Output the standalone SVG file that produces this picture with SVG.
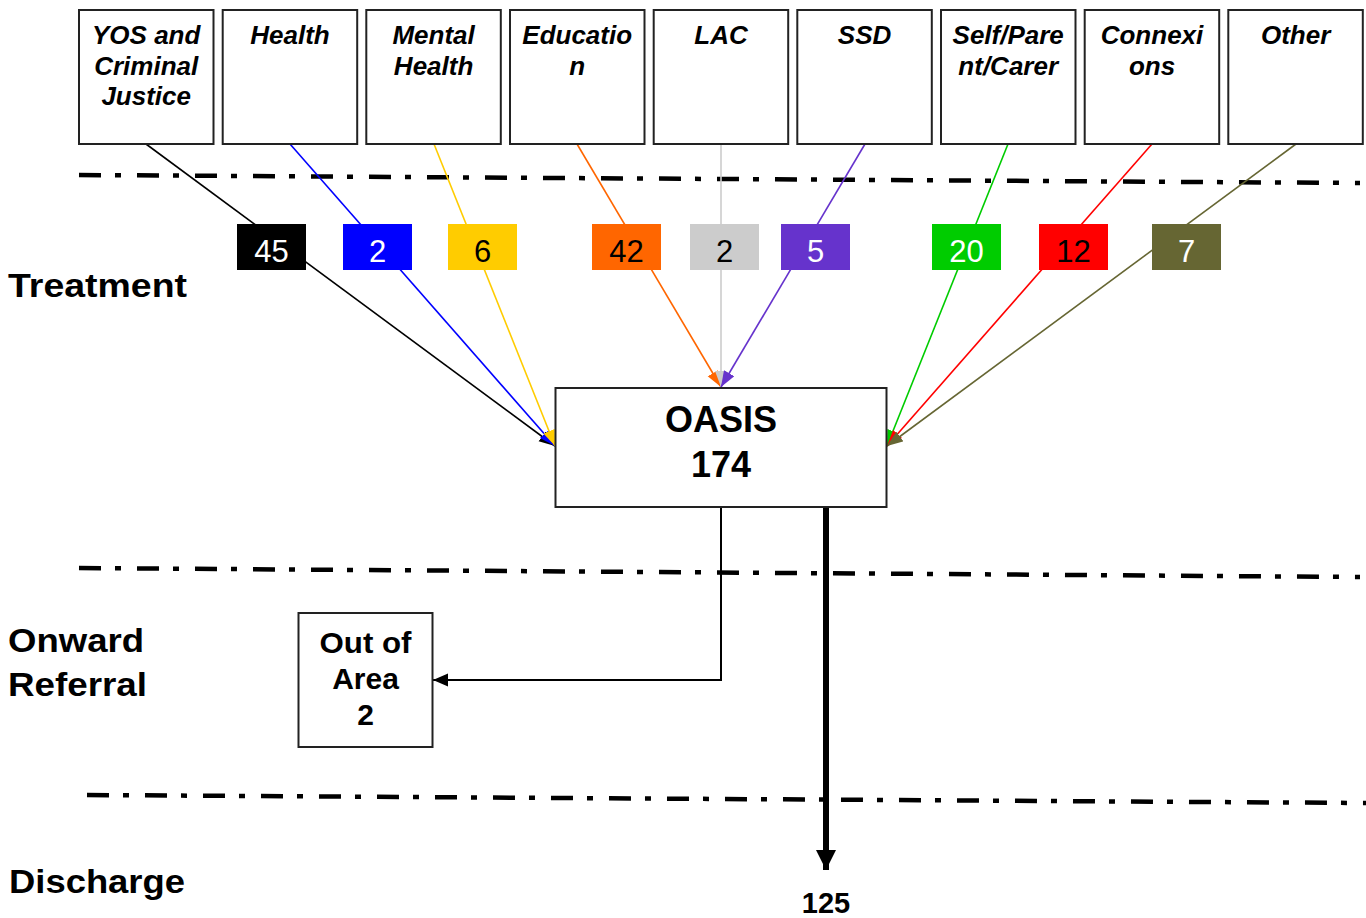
<svg xmlns="http://www.w3.org/2000/svg" width="1366" height="918" viewBox="0 0 1366 918">
<style>
.src rect{fill:#fff;stroke:#222;stroke-width:2}
.src text{font-family:"Liberation Sans",Arial,sans-serif;font-weight:bold;font-style:italic;font-size:26px;text-anchor:middle;fill:#000}
.cnt text{font-family:"Liberation Sans",Arial,sans-serif;font-size:31px;text-anchor:middle}
.lane{font-family:"Liberation Sans",Arial,sans-serif;font-weight:bold;font-size:34px;fill:#000}
.bold{font-family:"Liberation Sans",Arial,sans-serif;font-weight:bold;text-anchor:middle;fill:#000}
.sep{stroke:#000;stroke-width:4.5;stroke-dasharray:22 14 6 16;fill:none}
.ln{fill:none;stroke-width:1.6}
</style>
<defs>
<marker id="mk-black" markerUnits="userSpaceOnUse" markerWidth="18" markerHeight="13" refX="16" refY="6" orient="auto"><path d="M0,0 L16,6 L0,12 z" fill="#000"/></marker>
<marker id="mk-blue" markerUnits="userSpaceOnUse" markerWidth="18" markerHeight="13" refX="16" refY="6" orient="auto"><path d="M0,0 L16,6 L0,12 z" fill="#0000ff"/></marker>
<marker id="mk-yellow" markerUnits="userSpaceOnUse" markerWidth="18" markerHeight="13" refX="16" refY="6" orient="auto"><path d="M0,0 L16,6 L0,12 z" fill="#ffcc00"/></marker>
<marker id="mk-orange" markerUnits="userSpaceOnUse" markerWidth="18" markerHeight="13" refX="16" refY="6" orient="auto"><path d="M0,0 L16,6 L0,12 z" fill="#ff6600"/></marker>
<marker id="mk-gray" markerUnits="userSpaceOnUse" markerWidth="18" markerHeight="13" refX="16" refY="6" orient="auto"><path d="M0,0 L16,6 L0,12 z" fill="#cccccc"/></marker>
<marker id="mk-purple" markerUnits="userSpaceOnUse" markerWidth="18" markerHeight="13" refX="16" refY="6" orient="auto"><path d="M0,0 L16,6 L0,12 z" fill="#6633cc"/></marker>
<marker id="mk-green" markerUnits="userSpaceOnUse" markerWidth="18" markerHeight="13" refX="16" refY="6" orient="auto"><path d="M0,0 L16,6 L0,12 z" fill="#00cc00"/></marker>
<marker id="mk-red" markerUnits="userSpaceOnUse" markerWidth="18" markerHeight="13" refX="16" refY="6" orient="auto"><path d="M0,0 L16,6 L0,12 z" fill="#ff0000"/></marker>
<marker id="mk-olive" markerUnits="userSpaceOnUse" markerWidth="18" markerHeight="13" refX="16" refY="6" orient="auto"><path d="M0,0 L16,6 L0,12 z" fill="#666633"/></marker>
<marker id="mk-thin" markerUnits="userSpaceOnUse" markerWidth="16" markerHeight="14" refX="15" refY="6.5" orient="auto"><path d="M0,0 L15,6.5 L0,13 z" fill="#000"/></marker>
<marker id="mk-thick" markerUnits="userSpaceOnUse" markerWidth="22" markerHeight="22" refX="20" refY="10" orient="auto"><path d="M0,0 L20,10 L0,20 z" fill="#000"/></marker>
</defs>
<rect width="1366" height="918" fill="#fff"/>

<g id="separators">
<line class="sep" x1="79" y1="175" x2="1360" y2="183"/>
<line class="sep" x1="79" y1="568" x2="1360" y2="577"/>
<line class="sep" x1="87" y1="795" x2="1366" y2="803"/>
</g>

<g id="lanes">
<text class="lane" x="8" y="297" textLength="179" lengthAdjust="spacingAndGlyphs">Treatment</text>
<text class="lane" x="8" y="652" textLength="136" lengthAdjust="spacingAndGlyphs">Onward</text>
<text class="lane" x="8" y="696" textLength="139" lengthAdjust="spacingAndGlyphs">Referral</text>
<text class="lane" x="9" y="893" textLength="176" lengthAdjust="spacingAndGlyphs">Discharge</text>
</g>

<g id="connectors">
<line class="ln" stroke="#000" x1="146" y1="144" x2="555" y2="446" marker-end="url(#mk-black)"/>
<line class="ln" stroke="#0000ff" x1="290" y1="144" x2="555" y2="446" marker-end="url(#mk-blue)"/>
<line class="ln" stroke="#ffcc00" x1="434" y1="144" x2="555" y2="446" marker-end="url(#mk-yellow)"/>
<line class="ln" stroke="#ff6600" x1="577" y1="144" x2="721" y2="387" marker-end="url(#mk-orange)"/>
<line class="ln" stroke="#cccccc" x1="721" y1="144" x2="721" y2="387" marker-end="url(#mk-gray)"/>
<line class="ln" stroke="#6633cc" x1="865" y1="144" x2="721" y2="387" marker-end="url(#mk-purple)"/>
<line class="ln" stroke="#00cc00" x1="1008" y1="144" x2="887" y2="446" marker-end="url(#mk-green)"/>
<line class="ln" stroke="#ff0000" x1="1152" y1="144" x2="887" y2="446" marker-end="url(#mk-red)"/>
<line class="ln" stroke="#666633" x1="1296" y1="144" x2="887" y2="446" marker-end="url(#mk-olive)"/>
<polyline fill="none" stroke="#000" stroke-width="2" points="721,507 721,680 433,680" marker-end="url(#mk-thin)"/>
<line stroke="#000" stroke-width="6" x1="826" y1="507" x2="826" y2="870" marker-end="url(#mk-thick)"/>
</g>

<g class="src">
<g id="n-yos"><rect x="79" y="10" width="134.5" height="134"/><text x="146.2" y="44">YOS and</text><text x="146.2" y="74.5">Criminal</text><text x="146.2" y="105">Justice</text></g>
<g id="n-health"><rect x="222.7" y="10" width="134.5" height="134"/><text x="290" y="44">Health</text></g>
<g id="n-mental"><rect x="366.3" y="10" width="134.5" height="134"/><text x="433.6" y="44">Mental</text><text x="433.6" y="74.5">Health</text></g>
<g id="n-education"><rect x="510" y="10" width="134.5" height="134"/><text x="577.2" y="44">Educatio</text><text x="577.2" y="74.5">n</text></g>
<g id="n-lac"><rect x="653.7" y="10" width="134.5" height="134"/><text x="721" y="44">LAC</text></g>
<g id="n-ssd"><rect x="797.3" y="10" width="134.5" height="134"/><text x="864.6" y="44">SSD</text></g>
<g id="n-self"><rect x="941" y="10" width="134.5" height="134"/><text x="1008.2" y="44">Self/Pare</text><text x="1008.2" y="74.5">nt/Carer</text></g>
<g id="n-connexions"><rect x="1084.7" y="10" width="134.5" height="134"/><text x="1152" y="44">Connexi</text><text x="1152" y="74.5">ons</text></g>
<g id="n-other"><rect x="1228.3" y="10" width="134.5" height="134"/><text x="1295.6" y="44">Other</text></g>
</g>

<g class="cnt">
<g id="c-yos"><rect x="237" y="224" width="69" height="46" fill="#000"/><text x="271.5" y="262" fill="#fff">45</text></g>
<g id="c-health"><rect x="343" y="224" width="69" height="46" fill="#0000ff"/><text x="377.5" y="262" fill="#fff">2</text></g>
<g id="c-mental"><rect x="448" y="224" width="69" height="46" fill="#ffcc00"/><text x="482.5" y="262" fill="#000">6</text></g>
<g id="c-education"><rect x="592" y="224" width="69" height="46" fill="#ff6600"/><text x="626.5" y="262" fill="#000">42</text></g>
<g id="c-lac"><rect x="690" y="224" width="69" height="46" fill="#cccccc"/><text x="724.5" y="262" fill="#000">2</text></g>
<g id="c-ssd"><rect x="781" y="224" width="69" height="46" fill="#6633cc"/><text x="815.5" y="262" fill="#fff">5</text></g>
<g id="c-self"><rect x="932" y="224" width="69" height="46" fill="#00cc00"/><text x="966.5" y="262" fill="#fff">20</text></g>
<g id="c-connexions"><rect x="1039" y="224" width="69" height="46" fill="#ff0000"/><text x="1073.5" y="262" fill="#000">12</text></g>
<g id="c-other"><rect x="1152" y="224" width="69" height="46" fill="#666633"/><text x="1186.5" y="262" fill="#fff">7</text></g>
</g>

<g id="n-oasis">
<rect x="555.5" y="388" width="331" height="119" fill="#fff" stroke="#222" stroke-width="2"/>
<text class="bold" x="721" y="432" font-size="36">OASIS</text>
<text class="bold" x="721" y="477" font-size="36">174</text>
</g>

<g id="n-outofarea">
<rect x="298.5" y="613" width="134" height="134" fill="#fff" stroke="#222" stroke-width="2"/>
<text class="bold" x="365.5" y="653" font-size="30" textLength="92" lengthAdjust="spacingAndGlyphs">Out of</text>
<text class="bold" x="365.5" y="689" font-size="30">Area</text>
<text class="bold" x="365.5" y="725" font-size="30">2</text>
</g>

<g id="n-discharge">
<text class="bold" x="826" y="913" font-size="29">125</text>
</g>
</svg>
